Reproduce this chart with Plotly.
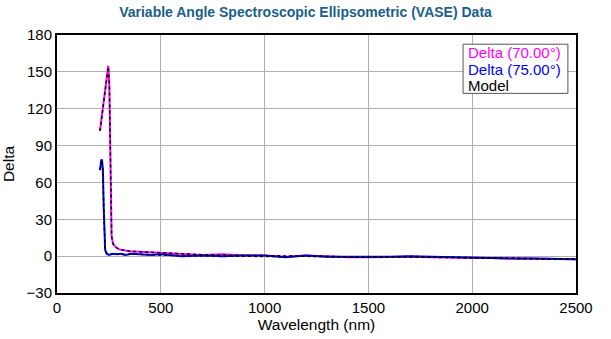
import plotly.graph_objects as go

# Measured Delta at 70 degrees
wl_70 = [207, 220, 235, 247, 252, 256, 258, 260, 263, 270, 285, 300, 350, 400, 500, 600,
         700, 800, 900, 1000, 1100, 1200, 1300, 1400, 1500, 1600, 1700, 1800, 1900, 2000,
         2100, 2200, 2300, 2400, 2500]
delta_70 = [102, 118, 138, 155, 140, 100, 60, 30, 16, 10, 7, 5.5, 4, 3.5, 2.5, 2,
            1, 1.5, 0.5, 0.5, -0.5, 0.5, -0.5, -1, -1, -0.5, -0.5, -1, -1, -1.5,
            -1.5, -2, -2, -2, -2.5]

# Measured Delta at 75 degrees
wl_75 = [207, 213, 217, 221, 225, 228, 232, 240, 250, 270, 290, 310, 330, 360, 400, 450,
         500, 600, 700, 800, 900, 1000, 1100, 1200, 1300, 1400, 1500, 1600, 1700, 1800,
         1900, 2000, 2100, 2200, 2300, 2400, 2500]
delta_75 = [70, 78, 78, 70, 40, 15, 5, 2, 1, 2, 1.5, 2, 1, 2, 1.5, 1,
            1.5, 0, 0.5, 0, 0.5, 0.5, -1, 0.5, -0.5, -0.5, -1, -0.5, 0, -0.5,
            -1, -1.5, -1.5, -2, -2, -2.5, -2.5]

# Model fits
model_70 = [102, 118, 138, 154, 140, 100, 60, 30, 16, 10, 7, 5.5, 4, 3.5, 2.5, 2,
            1.2, 1.2, 0.6, 0.4, 0, 0.2, -0.4, -0.8, -1, -0.7, -0.7, -1, -1.1, -1.4,
            -1.6, -1.9, -2, -2.1, -2.4]
model_75 = [70, 78, 78, 70, 40, 15, 5, 2, 1.5, 1.8, 1.6, 1.8, 1.3, 1.7, 1.4, 1.2,
            1.2, 0.4, 0.4, 0.2, 0.4, 0.3, -0.5, 0.2, -0.4, -0.6, -0.8, -0.5, -0.3, -0.6,
            -1, -1.4, -1.6, -1.9, -2.1, -2.3, -2.5]

x_ticks = [0, 500, 1000, 1500, 2000, 2500]
y_ticks = [-30, 0, 30, 60, 90, 120, 150, 180]

legend_labels = ["Delta (70.00°)", "Delta (75.00°)", "Model"]
legend_colors = ["#ff00ff", "#0000ff", "#000000"]

FONT = "Liberation Sans, Arial"

fig = go.Figure()
fig.add_trace(go.Scatter(x=wl_70, y=delta_70, mode="lines",
                         line=dict(color="#ff00ff", width=2), showlegend=False))
fig.add_trace(go.Scatter(x=wl_75, y=delta_75, mode="lines",
                         line=dict(color="#0000ff", width=2), showlegend=False))
fig.add_trace(go.Scatter(x=wl_70, y=model_70, mode="lines",
                         line=dict(color="#000000", width=1.5, dash="dot"), showlegend=False))
fig.add_trace(go.Scatter(x=wl_75, y=model_75, mode="lines",
                         line=dict(color="#000000", width=1.5, dash="dot"), showlegend=False))

# Legend box with coloured labels
fig.add_shape(type="rect", x0=1956, x1=2461, y0=132.5, y1=172.5,
              line=dict(color="#555555", width=1), fillcolor="white", layer="above")
for i, (lab, col) in enumerate(zip(legend_labels, legend_colors)):
    fig.add_annotation(x=1972, y=165.5 - i * 13.4, text=lab, showarrow=False,
                       xanchor="left", yanchor="middle",
                       font=dict(color=col, size=15, family=FONT))

fig.update_layout(
    width=611, height=339,
    margin=dict(l=57, r=35, t=35, b=46),
    paper_bgcolor="white", plot_bgcolor="white",
    font=dict(family=FONT, size=15, color="#000000"),
    title=dict(text="<b>Variable Angle Spectroscopic Ellipsometric (VASE) Data</b>",
               x=0.5, xanchor="center", y=0.965, yanchor="middle",
               font=dict(size=14, color="#1b5e8c")),
)
fig.update_xaxes(range=[0, 2500], tickvals=x_ticks, showgrid=True, gridcolor="#b0b0b0",
                 gridwidth=1, showline=True, linecolor="black", linewidth=2, mirror=True,
                 ticks="", tickfont=dict(size=15), automargin=False,
                 title=dict(text="Wavelength (nm)", standoff=2, font=dict(size=15.5)),
                 zeroline=False)
fig.update_yaxes(range=[-30, 180], tickvals=y_ticks, showgrid=True, gridcolor="#b0b0b0",
                 gridwidth=1, showline=True, linecolor="black", linewidth=2, mirror=True,
                 ticks="", tickfont=dict(size=15), automargin=False,
                 title=dict(text="Delta", standoff=10, font=dict(size=15.5)),
                 zeroline=False)

fig.write_html("out.html")
